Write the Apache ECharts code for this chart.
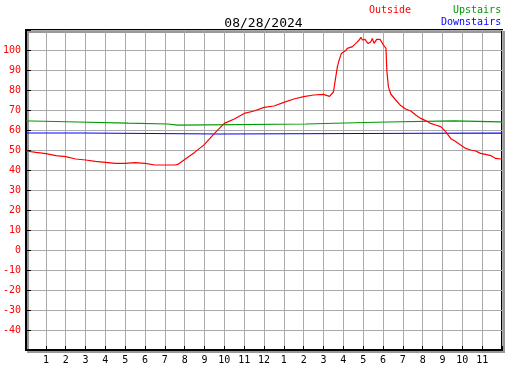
<!DOCTYPE html>
<html>
<head>
<meta charset="utf-8">
<script src="https://cdn.jsdelivr.net/npm/echarts@6/dist/echarts.min.js"></script>
<style>
  html, body { margin: 0; padding: 0; background: #fff; }
  #chart { width: 527px; height: 370px; }
</style>
</head>
<body>
<div id="chart"></div>
<script>
var title = '08/28/2024';

// hours since midnight
var outsideHours = [0, 0.5, 1, 1.5, 2, 2.5, 3, 3.5, 4, 4.5, 5, 5.5, 6, 6.5, 7, 7.5, 7.65,
  8, 8.5, 9, 9.5, 10, 10.5, 11, 11.5, 12, 12.5, 13, 13.5, 14, 14.5, 15, 15.3, 15.37,
  15.5, 15.62, 15.7, 15.78, 15.9, 16, 16.12, 16.2, 16.46, 16.63, 16.8, 16.88, 16.96,
  17.09, 17.24, 17.38, 17.46, 17.55, 17.68, 17.85, 18.02, 18.15, 18.19, 18.27, 18.39,
  18.64, 18.89, 19.14, 19.4, 19.65, 19.9, 20.15, 20.4, 20.65, 20.91, 21.16, 21.41,
  21.66, 21.91, 22.17, 22.42, 22.67, 22.92, 23.17, 23.43, 23.68, 23.93, 24];
var outsideTemps = [49.5, 48.8, 48.2, 47.2, 46.7, 45.5, 45, 44.3, 43.8, 43.3, 43.3, 43.7, 43.3, 42.5, 42.5, 42.5, 42.8,
  45.3, 48.8, 52.8, 58.3, 63.3, 65.5, 68.3, 69.5, 71.3, 72, 73.8, 75.5, 76.7, 77.5, 77.8, 76.8, 77,
  79, 86.7, 91.7, 94.7, 98.3, 98, 99.7, 100.8, 101.7, 103.3, 105, 106.3, 105,
  105.3, 103.3, 104, 105.8, 103.3, 105.3, 105.3, 102.5, 100.8, 90, 81.7, 78,
  75, 72.2, 70.5, 69.5, 67.5, 65.8, 64.7, 63.3, 62.5, 61.7, 59.2, 55.8,
  54.2, 52.5, 50.8, 50, 49.5, 48.3, 47.8, 47.2, 45.8, 45.5, 45.5];

// step readings: each change time appears twice (old value, new value)
var upstairsHours = [0, 0.3, 0.3, 2.6, 2.6, 5.15, 5.15, 7.15, 7.15, 7.65, 7.65,
  14.1, 14.1, 16.07, 16.07, 18.2, 18.2, 21.56, 21.56, 23.9, 23.9, 24];
var upstairsTemps = [64.5, 64.5, 64, 64, 63.4, 63.4, 63, 63, 62.4, 62.4, 63,
  63, 63.5, 63.5, 64, 64, 64.6, 64.6, 64.1, 64.1, 63.7, 63.7];

var downstairsHours = [0, 2.82, 2.82, 9.77, 9.77, 23.95, 23.95, 24];
var downstairsTemps = [58.5, 58.5, 58, 58, 58.5, 58.5, 58.2, 58.2];

function pairs(xs, ys) {
  return xs.map(function(x, i) { return [x, ys[i]]; });
}

var mono = "'DejaVu Sans Mono', monospace";
var chart = echarts.init(document.getElementById('chart'));

chart.setOption({
  animation: false,
  backgroundColor: '#fff',
  title: {
    text: title,
    left: 'center',
    top: 12,
    textStyle: { fontFamily: mono, fontSize: 13, fontWeight: 'normal', color: '#000' }
  },
  graphic: [
    { type: 'text', left: 369, top: 5, style: { text: 'Outside', fill: '#ff0000', font: '10px ' + mono } },
    { type: 'text', left: 453, top: 5, style: { text: 'Upstairs', fill: '#009900', font: '10px ' + mono } },
    { type: 'text', left: 441, top: 17, style: { text: 'Downstairs', fill: '#0000ff', font: '10px ' + mono } }
  ],
  grid: {
    show: true,
    left: 25, right: 25, top: 30, bottom: 20,
    backgroundColor: '#fff',
    borderColor: '#000',
    borderWidth: 2,
    shadowColor: '#999',
    shadowOffsetX: 2,
    shadowOffsetY: 2,
    shadowBlur: 0
  },
  xAxis: {
    type: 'value',
    min: 0, max: 24, interval: 1,
    axisLine: { onZero: false, lineStyle: { color: '#000', width: 2 } },
    axisTick: { inside: true, length: 4, lineStyle: { color: '#000' } },
    splitLine: { show: true, lineStyle: { color: '#aaa', width: 1 } },
    axisLabel: {
      margin: 5,
      color: '#000',
      fontFamily: mono,
      fontSize: 10,
      formatter: function(v) {
        if (v <= 0 || v >= 24) return '';
        return String(v % 12 === 0 ? 12 : v % 12);
      }
    }
  },
  yAxis: {
    type: 'value',
    min: -50, max: 110, interval: 10,
    axisLine: { show: true, onZero: false, lineStyle: { color: '#000', width: 2 } },
    axisTick: { show: true, inside: true, length: 5, lineStyle: { color: '#000' } },
    splitLine: { show: true, lineStyle: { color: '#aaa', width: 1 } },
    axisLabel: {
      margin: 5,
      color: '#ff0000',
      fontFamily: mono,
      fontSize: 10,
      formatter: function(v) {
        if (v <= -50 || v >= 110) return '';
        return String(v);
      }
    }
  },
  series: [
    {
      name: 'Upstairs', type: 'line', showSymbol: false,
      lineStyle: { color: '#009900', width: 1.2 },
      data: pairs(upstairsHours, upstairsTemps)
    },
    {
      name: 'Downstairs', type: 'line', showSymbol: false,
      lineStyle: { color: '#0000ff', width: 1.2 },
      data: pairs(downstairsHours, downstairsTemps)
    },
    {
      name: 'Outside', type: 'line', showSymbol: false,
      lineStyle: { color: '#ff0000', width: 1.2 },
      data: pairs(outsideHours, outsideTemps)
    }
  ]
});
</script>
</body>
</html>
